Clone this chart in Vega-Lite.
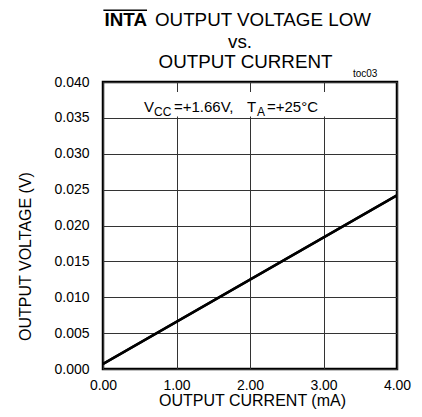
{
  "$schema": "https://vega.github.io/schema/vega-lite/v6.json",
  "width": 294,
  "height": 287,
  "autosize": {"type": "none"},
  "padding": {"left": 103, "top": 82, "right": 25, "bottom": 48},
  "background": "white",
  "config": {
    "font": "Liberation Sans",
    "view": {"stroke": "black", "strokeWidth": 2.5},
    "axis": {"gridColor": "#333", "gridWidth": 1, "gridOpacity": 1, "domain": false, "ticks": false, "tickSize": 0, "labelColor": "black", "titleColor": "black", "labelFont": "Liberation Sans", "titleFont": "Liberation Sans", "titleFontWeight": "normal", "labelOverlap": false, "labelFlush": false}
  },
  "datasets": {
    "curve": [{"current": 0, "voltage": 0.0007}, {"current": 4, "voltage": 0.0242}],
    "box": [{"x1": 0.163, "x2": 3.36, "y1": 0.0352, "y2": 0.0386}],
    "titleBold": [{"current": 0.599, "voltage": 0.0478, "label": "INTA"}],
    "titleRest": [{"current": 0.707, "voltage": 0.0478, "label": "OUTPUT VOLTAGE LOW"}],
    "titleCenter": [{"current": 1.864, "voltage": 0.04474, "label": "vs."}, {"current": 1.939, "voltage": 0.0420, "label": "OUTPUT CURRENT"}],
    "overline": [{"x1": 0.005, "x2": 0.599, "voltage": 0.0500}],
    "toc": [{"current": 3.401, "voltage": 0.0407, "label": "toc03"}],
    "annMain": [{"current": 0.558, "voltage": 0.03582, "label": "V"}, {"current": 0.966, "voltage": 0.03582, "label": "=+1.66V,"}, {"current": 1.959, "voltage": 0.03582, "label": "T"}, {"current": 2.231, "voltage": 0.03582, "label": "=+25°C"}],
    "annSub": [{"current": 0.694, "voltage": 0.03533, "label": "CC"}, {"current": 2.095, "voltage": 0.03533, "label": "A"}]
  },
  "layer": [
    {
      "data": {"name": "curve"},
      "mark": {"type": "line", "color": "black", "strokeWidth": 2.5, "clip": true},
      "encoding": {
        "x": {"field": "current", "type": "quantitative",
          "scale": {"domain": [0, 4], "nice": false, "zero": false},
          "axis": {"values": [0, 1, 2, 3, 4], "tickCount": 10, "format": ".2f", "grid": true, "labelFontSize": 14, "labelPadding": 20, "labelBaseline": "alphabetic", "labelAlign": "center",
            "title": "OUTPUT CURRENT (mA)", "titleFontSize": 16, "titleY": 36, "titleBaseline": "alphabetic", "titleX": 149}},
        "y": {"field": "voltage", "type": "quantitative",
          "scale": {"domain": [0, 0.04], "nice": false, "zero": false},
          "axis": {"values": [0, 0.005, 0.01, 0.015, 0.02, 0.025, 0.03, 0.035, 0.04], "tickCount": 20, "format": ".3f", "grid": true, "labelFontSize": 14, "labelPadding": 14, "labelBaseline": "middle", "labelAlign": "right",
            "title": "OUTPUT VOLTAGE (V)", "titleFontSize": 16, "titleAngle": 270, "titleX": -78, "titleY": 174, "titleBaseline": "middle", "titleAlign": "center"}}
      }
    },
    {
      "data": {"name": "box"},
      "mark": {"type": "rect", "fill": "white", "stroke": null},
      "encoding": {
        "x": {"field": "x1", "type": "quantitative"},
        "x2": {"field": "x2"},
        "y": {"field": "y1", "type": "quantitative"},
        "y2": {"field": "y2"}
      }
    },
    {
      "data": {"name": "curve"},
      "mark": {"type": "line", "color": "black", "strokeWidth": 2.5, "clip": true},
      "encoding": {
        "x": {"field": "current", "type": "quantitative"},
        "y": {"field": "voltage", "type": "quantitative"}
      }
    },
    {
      "data": {"name": "titleBold"},
      "mark": {"type": "text", "fontSize": 18.8, "fontWeight": "bold", "align": "right", "baseline": "alphabetic", "color": "black"},
      "encoding": {
        "x": {"field": "current", "type": "quantitative"},
        "y": {"field": "voltage", "type": "quantitative"},
        "text": {"field": "label"}
      }
    },
    {
      "data": {"name": "titleRest"},
      "mark": {"type": "text", "fontSize": 18.8, "align": "left", "baseline": "alphabetic", "color": "black"},
      "encoding": {
        "x": {"field": "current", "type": "quantitative"},
        "y": {"field": "voltage", "type": "quantitative"},
        "text": {"field": "label"}
      }
    },
    {
      "data": {"name": "titleCenter"},
      "mark": {"type": "text", "fontSize": 18.8, "align": "center", "baseline": "alphabetic", "color": "black"},
      "encoding": {
        "x": {"field": "current", "type": "quantitative"},
        "y": {"field": "voltage", "type": "quantitative"},
        "text": {"field": "label"}
      }
    },
    {
      "data": {"name": "overline"},
      "mark": {"type": "rule", "color": "black", "strokeWidth": 1.6},
      "encoding": {
        "x": {"field": "x1", "type": "quantitative"},
        "x2": {"field": "x2"},
        "y": {"field": "voltage", "type": "quantitative"}
      }
    },
    {
      "data": {"name": "toc"},
      "mark": {"type": "text", "fontSize": 10, "align": "left", "baseline": "alphabetic", "color": "black"},
      "encoding": {
        "x": {"field": "current", "type": "quantitative"},
        "y": {"field": "voltage", "type": "quantitative"},
        "text": {"field": "label"}
      }
    },
    {
      "data": {"name": "annMain"},
      "mark": {"type": "text", "fontSize": 15, "align": "left", "baseline": "alphabetic", "color": "black"},
      "encoding": {
        "x": {"field": "current", "type": "quantitative"},
        "y": {"field": "voltage", "type": "quantitative"},
        "text": {"field": "label"}
      }
    },
    {
      "data": {"name": "annSub"},
      "mark": {"type": "text", "fontSize": 12, "align": "left", "baseline": "alphabetic", "color": "black"},
      "encoding": {
        "x": {"field": "current", "type": "quantitative"},
        "y": {"field": "voltage", "type": "quantitative"},
        "text": {"field": "label"}
      }
    }
  ]
}
